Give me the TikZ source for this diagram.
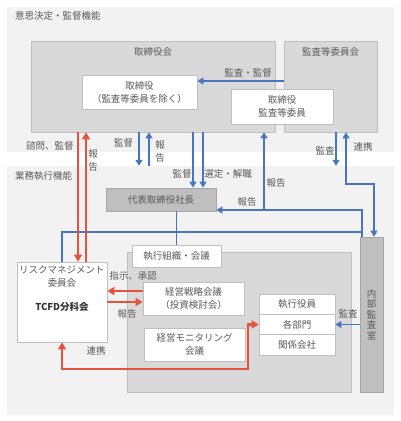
\documentclass[tikz,border=0pt]{standalone}
\usepackage{fontspec}
\setmainfont{Noto Sans CJK JP}
\usetikzlibrary{arrows.meta}

\definecolor{panelbg}{HTML}{F2F2F2}
\definecolor{boxbg}{HTML}{D9D9D9}
\definecolor{boxline}{HTML}{BFBFBF}
\definecolor{darkbg}{HTML}{BFBFBF}
\definecolor{darkline}{HTML}{A6A6A6}
\definecolor{txt}{HTML}{595959}
\definecolor{txtdark}{HTML}{333333}
\definecolor{arrblue}{HTML}{4677BE}
\definecolor{arrred}{HTML}{E5533D}

\tikzset{
  panel/.style={fill=panelbg, inner sep=0pt},
  graybox/.style={fill=boxbg, draw=boxline, line width=0.8pt, inner sep=0pt},
  whitebox/.style={fill=white, draw=boxline, line width=0.8pt, inner sep=0pt, align=center, text=txt},
  darkbox/.style={fill=darkbg, draw=darkline, line width=0.8pt, inner sep=0pt, align=center, text=txt},
  lbl/.style={text=txt, inner sep=0pt, align=center},
  blueline/.style={draw=arrblue, line width=1.3pt},
  bluearr/.style={blueline, >={Triangle[length=6pt,width=7pt]}, ->},
  redarr/.style={draw=arrred, line width=2.2pt, >={Triangle[length=7pt,width=8pt]}, ->}
}

\begin{document}
\begin{tikzpicture}[x=1pt,y=-1pt,font=\fontsize{9.5}{13}\selectfont]
  \useasboundingbox (0,0) rectangle (400,421);
  % panels
  \node[panel, minimum width=387pt, minimum height=145pt] (decpanel) at (200.5,79.5) {};
  \node[panel, minimum width=387pt, minimum height=249pt] (exepanel) at (200.5,290.5) {};
  \node[lbl, anchor=west] (dectitle) at (15,16) {意思決定・監督機能};
  \node[lbl, anchor=west] (exetitle) at (15,176) {業務執行機能};

  % board and audit committee
  \node[graybox, minimum width=244pt, minimum height=91pt] (board) at (153,86.5) {};
  \node[lbl] (boardtitle) at (153,52) {取締役会};
  \node[graybox, minimum width=93pt, minimum height=91pt] (acbox) at (330.5,86.5) {};
  \node[lbl] (actitle) at (330.5,52) {監査等委員会};
  \node[whitebox, minimum width=115pt, minimum height=34pt] (dirs) at (139.5,92) {取締役\\（監査等委員を除く）};
  \node[whitebox, minimum width=102pt, minimum height=35pt] (acdir) at (282,106.5) {取締役\\監査等委員};

  % execution
  \node[darkbox, minimum width=110pt, minimum height=23pt] (ceo) at (161,199.5) {代表取締役社長};
  \node[graybox, minimum width=224pt, minimum height=140pt] (execarea) at (239,322) {};
  \node[whitebox, minimum width=89pt, minimum height=22pt] (execlabel) at (176.5,256) {執行組織・会議};
  \node[whitebox, minimum width=90pt, minimum height=80pt] (risk) at (62,302) {};
  \node[lbl] (risklbl) at (62,289) {リスクマネジメント\\委員会\\[11pt]{\bfseries\color{txtdark}TCFD分科会}};
  \node[whitebox, minimum width=101pt, minimum height=33pt] (strat) at (193.5,298.5) {経営戦略会議\\（投資検討会）};
  \node[whitebox, minimum width=101pt, minimum height=33pt] (monitor) at (194.5,344.5) {経営モニタリング\\会議};
  \node[whitebox, minimum width=76pt, minimum height=20.33pt] (officers) at (297,304.17) {執行役員};
  \node[whitebox, minimum width=76pt, minimum height=20.33pt] (depts) at (297,324.5) {各部門};
  \node[whitebox, minimum width=76pt, minimum height=20.33pt] (affil) at (297,344.83) {関係会社};
  \node[darkbox, minimum width=23pt, minimum height=155pt, font=\fontsize{9.5}{10.5}\selectfont] (audit) at (371.5,314.5) {内\\部\\監\\査\\室};

  % blue connectors
  \draw[bluearr] (acbox.west |- 0,81) -- (dirs.east |- 0,81);
  \draw[bluearr] (board.south -| 139,0) -- (exepanel.north -| 139,0);
  \draw[bluearr] (exepanel.north -| 149,0) -- (board.south -| 149,0);
  \draw[bluearr] (board.south -| 193,0) -- (ceo.north -| 193,0);
  \draw[bluearr] (board.south -| 203,0) -- (ceo.north -| 203,0);
  \draw[bluearr] (acbox.south -| 336,0) -- (exepanel.north -| 336,0);
  \draw[bluearr, <->] (acbox.south -| 346,0) |- (374,184) -- (audit.north -| 374,0);
  \coordinate (rep) at (264,210);
  \coordinate (jct) at (362,232);
  \draw[blueline] (ceo.south -| execlabel.north) -- (execlabel.north);
  \draw[bluearr] (audit.north -| 362,0) |- (ceo.east |- 0,210);
  \draw[bluearr] (rep) -- (board.south -| rep);
  \draw[blueline] (jct) -| (risk.north);
  \draw[bluearr] (audit.west |- depts.east) -- (depts.east);

  % red connectors
  \draw[redarr] (board.south -| 78,0) -- (risk.north -| 78,0);
  \draw[redarr] (risk.north -| 86,0) -- (board.south -| 86,0);
  \draw[redarr] (strat.west |- 0,291) -- (risk.east |- 0,291);
  \draw[redarr] (risk.east |- 0,302) -- (strat.west |- 0,302);
  \draw[redarr, <->] (risk.south) |- (248,369) |- (depts.west);

  % connector labels
  \node[lbl] (l1) at (248,73) {監査・監督};
  \node[lbl] (l2) at (123.5,143) {監督};
  \node[lbl] (l3) at (160,151) {報\\告};
  \node[lbl] (l4) at (50,146) {諮問、監督};
  \node[lbl] (l5) at (93,160) {報\\告};
  \node[lbl] (l6) at (182,174) {監督};
  \node[lbl] (l7) at (228,174) {選定・解職};
  \node[lbl] (l8) at (247,202) {報告};
  \node[lbl] (l9) at (276,183) {報告};
  \node[lbl] (l10) at (325,151) {監査};
  \node[lbl] (l11) at (363,147) {連携};
  \node[lbl] (l12) at (133,276) {指示、承認};
  \node[lbl] (l13) at (127,314) {報告};
  \node[lbl] (l14) at (96,351) {連携};
  \node[lbl] (l15) at (348,314) {監査};
\end{tikzpicture}
\end{document}
